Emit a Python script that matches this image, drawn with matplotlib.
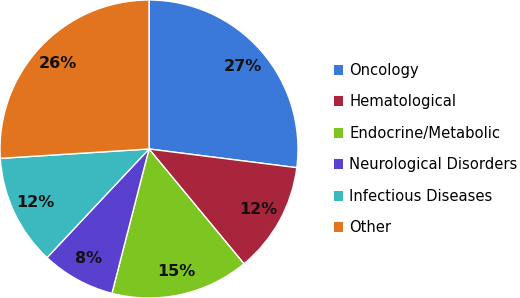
import matplotlib.pyplot as plt
from matplotlib.patches import Patch

categories = ["Oncology", "Hematological", "Endocrine/Metabolic",
              "Neurological Disorders", "Infectious Diseases", "Other"]
shares = [27, 12, 15, 8, 12, 26]
colors = ["#3a79d9", "#a8253c", "#7dc520", "#5a40cf", "#3cb9bf", "#e2741f"]

fig = plt.figure(figsize=(5.2, 2.98), dpi=100)
ax = fig.add_axes([0, 0, 298 / 520, 1])

wedges, texts, autotexts = ax.pie(
    shares, colors=colors, startangle=90, counterclock=False,
    autopct=lambda p: f"{p:.0f}%", pctdistance=0.84, radius=1.0,
    wedgeprops=dict(linewidth=1, edgecolor="white"),
    textprops=dict(fontsize=11.5, fontweight="bold", color="#111111"))
ax.set_xlim(-1.0, 1.0)
ax.set_ylim(-1.0, 1.0)
ax.set_aspect("equal")

handles = [Patch(facecolor=c, edgecolor="none") for c in colors]
fig.legend(handles, categories, loc="upper left", bbox_to_anchor=(328 / 520, 1 - 57 / 298),
           frameon=False, fontsize=10.6, handlelength=0.65, handleheight=0.65,
           handletextpad=0.4, labelspacing=1.12, borderaxespad=0)

fig.savefig("out.png", dpi=100)
